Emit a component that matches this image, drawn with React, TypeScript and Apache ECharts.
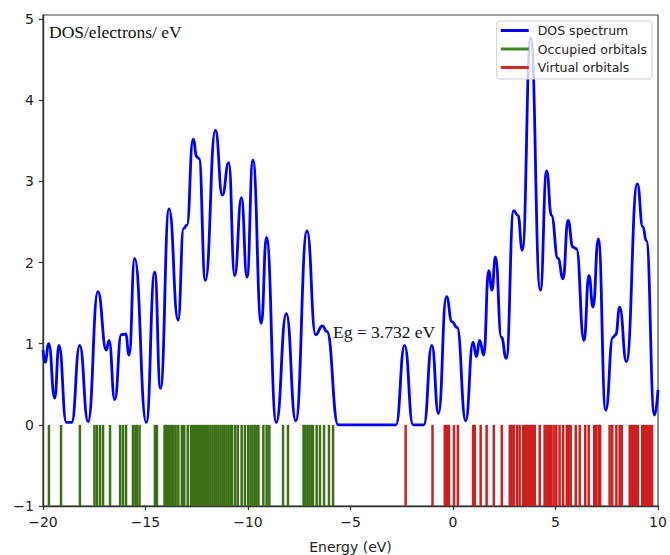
import React, { useEffect, useRef } from "react";
import * as echarts from "echarts";

// DOS curve (energy in eV, DOS in electrons/eV)
const dosEnergy = [
  -20.0, -19.9, -19.72, -19.43, -19.22, -18.86, -18.6, -18.21, -17.8, -17.32,
  -16.91, -16.78, -16.5, -16.18, -15.97, -15.8, -15.53, -14.96, -14.55, -14.27,
  -13.85, -13.41, -13.14, -12.98, -12.68, -12.49, -12.39, -12.08, -11.59, -11.25,
  -10.94, -10.65, -10.32, -10.05, -9.76, -9.35, -9.1, -8.62, -8.13, -7.67,
  -7.12, -6.7, -6.37, -6.15, -5.6, -2.78, -2.36, -1.95, -1.42, -1.03,
  -0.71, -0.32, -0.05, 0.2, 0.62, 0.98, 1.14, 1.3, 1.5, 1.74,
  1.9, 2.07, 2.36, 2.6, 2.96, 3.17, 3.38, 3.79, 4.26, 4.57,
  4.8, 5.12, 5.37, 5.61, 5.85, 6.02, 6.39, 6.63, 6.83, 7.09,
  7.45, 7.8, 7.94, 8.13, 8.46, 8.99, 9.26, 9.43, 9.83, 10.0,
];
const dosValue = [
  0.92, 0.77, 1.0, 0.33, 0.98, 0.03, 0.03, 0.98, 0.04, 1.64,
  0.92, 1.04, 0.31, 1.11, 1.12, 0.86, 2.05, 0.03, 1.88, 0.45,
  2.66, 1.29, 2.42, 2.46, 3.52, 3.3, 3.28, 1.78, 3.63, 2.83,
  3.23, 1.84, 2.8, 1.82, 3.26, 1.25, 2.31, 0.03, 1.37, 0.05,
  2.39, 1.11, 1.22, 1.15, 0.0, 0.0, 0.98, 0.0, 0.0, 0.98,
  0.14, 1.58, 1.27, 1.2, 0.05, 1.02, 0.84, 1.04, 0.86, 1.9,
  1.66, 2.07, 1.08, 0.82, 2.64, 2.58, 2.15, 4.77, 1.66, 3.13,
  2.58, 2.05, 1.8, 2.52, 2.19, 2.17, 1.04, 1.84, 1.45, 2.29,
  0.18, 1.08, 1.11, 1.45, 0.78, 2.97, 2.44, 2.27, 0.12, 0.43,
];

// orbital energies (eV)
const occupiedOrbitals = [
  -19.71, -19.12, -18.2, -17.49, -17.37, -17.22, -17.07, -16.73, -16.24, -16.1,
  -15.95, -15.61, -15.49, -15.41, -15.29, -14.54, -14.44, -14.07, -14.0, -13.9,
  -13.8, -13.71, -13.63, -13.53, -13.4, -13.23, -13.11, -12.94, -12.78, -12.68,
  -12.59, -12.49, -12.39, -12.29, -12.2, -12.1, -12.01, -11.93, -11.83, -11.73,
  -11.63, -11.54, -11.44, -11.34, -11.24, -11.15, -11.05, -10.95, -10.85, -10.78,
  -10.63, -10.5, -10.31, -10.15, -9.99, -9.88, -9.78, -9.68, -9.59, -9.49,
  -9.25, -9.09, -8.96, -8.29, -8.05, -7.29, -7.2, -7.1, -7.0, -6.9,
  -6.83, -6.65, -6.49, -6.29, -6.05, -5.85,
];
const virtualOrbitals = [
  -2.31, -1.0, -0.4, -0.29, -0.2, 0.05, 0.24, 0.98, 1.06, 1.35,
  1.64, 1.99, 2.38, 2.77, 2.86, 2.96, 3.12, 3.25, 3.42, 3.52,
  3.62, 3.72, 3.81, 3.91, 3.99, 4.23, 4.47, 4.57, 4.67, 4.79,
  4.91, 5.04, 5.2, 5.37, 5.55, 5.64, 5.74, 5.99, 6.18, 6.45,
  6.62, 6.89, 6.99, 7.11, 7.18, 7.64, 7.77, 7.97, 8.13, 8.23,
  8.62, 8.72, 8.82, 8.94, 9.02, 9.23, 9.33, 9.42, 9.51, 9.6,
  9.71,
];

const yTicks = [-1, 0, 1, 2, 3, 4, 5];
const xTicks = [-20, -15, -10, -5, 0, 5, 10];

const BLUE = "#0000ff";
const GREEN = "#3b7016";
const RED = "#cd1f1f";
const minus = (v: number) => String(v).replace("-", "\u2212");

function stickRenderer(color: string) {
  return (params: any, api: any) => {
    const e = api.value(0);
    const p0 = api.coord([e, 0]);
    const p1 = api.coord([e, -1]);
    return {
      type: "line",
      shape: { x1: p0[0], y1: p0[1], x2: p1[0], y2: p1[1] },
      style: { stroke: color, lineWidth: 2.5 },
    };
  };
}

export default function App() {
  const ref = useRef<HTMLDivElement>(null);
  useEffect(() => {
    if (!ref.current) return;
    const chart = echarts.init(ref.current, null, { renderer: "svg" });
    const sans = "DejaVu Sans";
    const serif = "Liberation Serif";
    chart.setOption({
      animation: false,
      backgroundColor: "#ffffff",
      grid: {
        left: 43,
        right: 12,
        top: 15,
        bottom: 49,
        show: true,
        borderColor: "#444",
        borderWidth: 1.2,
        outerBoundsMode: "none",
      },
      legend: {
        orient: "vertical",
        right: 18,
        top: 21,
        padding: [3, 5, 5, 4],
        itemWidth: 28,
        itemHeight: 3,
        itemGap: 5.5,
        backgroundColor: "rgba(255,255,255,0.8)",
        borderColor: "#d0d0d0",
        borderWidth: 1,
        borderRadius: 3,
        textStyle: { fontFamily: sans, fontSize: 12.5, color: "#222", padding: [0, 0, 0, 4] },
        data: [
          { name: "DOS spectrum", icon: "rect", itemStyle: { color: BLUE } },
          { name: "Occupied orbitals", icon: "rect", itemStyle: { color: "#3a8a2a" } },
          { name: "Virtual orbitals", icon: "rect", itemStyle: { color: "#d62728" } },
        ],
      },
      xAxis: {
        type: "value",
        min: -20,
        max: 10,
        interval: 5,
        name: "Energy (eV)",
        nameLocation: "middle",
        nameGap: 34,
        nameTextStyle: { fontFamily: sans, fontSize: 14, color: "#222" },
        axisLine: { show: true, onZero: false, lineStyle: { color: "#333", width: 1.4 } },
        axisTick: { show: true, length: 4, customValues: xTicks, lineStyle: { color: "#333", width: 1.2 } },
        axisLabel: {
          customValues: xTicks,
          formatter: (v: number) => minus(v),
          fontFamily: sans,
          fontSize: 14,
          color: "#222",
          margin: 9,
        },
        splitLine: { show: false },
      },
      yAxis: {
        type: "value",
        min: -1,
        max: 5.05,
        interval: 1,
        axisLine: { show: true, onZero: false, lineStyle: { color: "#333", width: 1.4 } },
        axisTick: { show: true, length: 4, customValues: yTicks, lineStyle: { color: "#333", width: 1.2 } },
        axisLabel: {
          customValues: yTicks,
          formatter: (v: number) => minus(v),
          fontFamily: sans,
          fontSize: 14,
          color: "#222",
          margin: 9,
        },
        splitLine: { show: false },
      },
      graphic: [
        {
          type: "text",
          x: 49,
          y: 32,
          style: {
            text: "DOS/electrons/ eV",
            font: `17.5px "${serif}"`,
            fill: "#111",
            verticalAlign: "middle",
            align: "left",
          },
        },
        {
          type: "text",
          x: 333,
          y: 332,
          style: {
            text: "Eg = 3.732 eV",
            font: `17.5px "${serif}"`,
            fill: "#111",
            verticalAlign: "middle",
            align: "left",
          },
        },
      ],
      series: [
        {
          name: "Occupied orbitals",
          type: "custom",
          itemStyle: { color: "#3a8a2a" },
          encode: { x: 0, y: 1 },
          data: occupiedOrbitals.map((e) => [e, -1]),
          renderItem: stickRenderer(GREEN),
          z: 2,
        },
        {
          name: "Virtual orbitals",
          type: "custom",
          itemStyle: { color: "#d62728" },
          encode: { x: 0, y: 1 },
          data: virtualOrbitals.map((e) => [e, -1]),
          renderItem: stickRenderer(RED),
          z: 2,
        },
        {
          name: "DOS spectrum",
          type: "line",
          data: dosEnergy.map((e, i) => [e, dosValue[i]]),
          smooth: 0.5,
          smoothMonotone: "x",
          showSymbol: false,
          symbol: "none",
          lineStyle: { color: BLUE, width: 2.8 },
          itemStyle: { color: BLUE },
          z: 3,
        },
      ],
    });
    return () => chart.dispose();
  }, []);
  return (
    <div
      ref={ref}
      style={{ position: "fixed", left: 0, top: 0, width: 670, height: 555, background: "#fff" }}
    />
  );
}
